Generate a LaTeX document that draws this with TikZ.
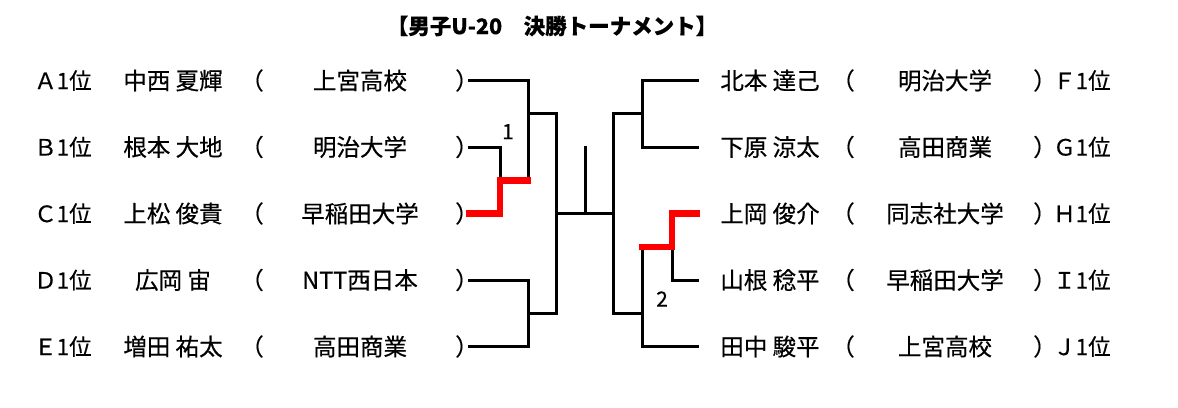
\documentclass[tikz,border=0pt]{standalone}
\usepackage{fontspec}
\newfontfamily\jp[FakeBold=0.4]{Noto Sans CJK JP}
\tikzset{
  txt/.style={inner sep=0pt, font=\jp\fontsize{23.5}{25}\selectfont},
  rank/.style={inner sep=0pt, font=\jp\fontsize{22.5}{25}\selectfont},
  ttl/.style={inner sep=0pt, font=\jp\bfseries\fontsize{21.5}{24}\selectfont},
  brk/.style={line width=3pt, black, line cap=rect},
  win/.style={line width=6.5pt, red, line cap=rect, line join=miter},
}
\begin{document}
\begin{tikzpicture}[x=1pt,y=-1pt]
\useasboundingbox (0,0) rectangle (1178,407);
\node[ttl] (title) at (552,26) {【男子U-20　決勝トーナメント】};
% rows
\def\ra{80.5}\def\rb{147}\def\rc{213.5}\def\rd{280}\def\re{346.5}
% left side
\foreach \r/\y/\n/\s [count=\i] in {Ａ/\ra/中西 夏輝/上宮高校, Ｂ/\rb/根本 大地/明治大学, Ｃ/\rc/上松 俊貴/早稲田大学, Ｄ/\rd/広岡 宙/NTT西日本, Ｅ/\re/増田 祐太/高田商業}{
  \node[rank,anchor=west] (lr\i) at (34,\y) {\r1位};
  \node[txt] (ln\i) at (173,\y) {\n};
  \node[txt] (lo\i) at (252,\y) {（};
  \node[txt] (ls\i) at (360,\y) {\s};
  \node[txt] (lc\i) at (467,\y) {）};
}
% right side
\foreach \r/\y/\n/\s [count=\i] in {Ｆ/\ra/北本 達己/明治大学, Ｇ/\rb/下原 涼太/高田商業, Ｈ/\rc/上岡 俊介/同志社大学, Ｉ/\rd/山根 稔平/早稲田大学, Ｊ/\re/田中 駿平/上宮高校}{
  \node[txt] (rn\i) at (770,\y) {\n};
  \node[txt] (ro\i) at (843,\y) {（};
  \node[txt] (rs\i) at (945,\y) {\s};
  \node[txt] (rc\i) at (1045,\y) {）};
  \node[rank,anchor=west] (rr\i) at (1053,\y) {\r1位};
}
% bracket coordinates
\coordinate (LA) at (469,\ra); \coordinate (LB) at (469,\rb); \coordinate (LC) at (469,\rc);
\coordinate (LD) at (469,\rd); \coordinate (LE) at (469,\re);
\coordinate (J1) at (528,113.3); \coordinate (J2) at (528,313.3);
\coordinate (SF) at (556,213.5);
\coordinate (RF) at (613.3,213.5);
\coordinate (K1) at (642,113.3); \coordinate (K2) at (642,313.3);
\coordinate (RA) at (697,\ra); \coordinate (RB) at (697,\rb); \coordinate (RC) at (697,\rc);
\coordinate (RD) at (697,\rd); \coordinate (RE) at (697,\re);
% left match lines
\draw[brk] (LA) -| (528,180.5);
\draw[brk] (LB) -| (500,180.5);
\draw[brk] (LD) -| (528,\re) -- (LE);
\draw[brk] (J1) -- (556,113.3) -- (556,313.3) -- (J2);
\draw[brk] (SF) -- (RF);
\draw[brk] (585,147) -- (585,213.5);
% right match lines
\draw[brk] (613.3,113.3) -- (613.3,313.3);
\draw[brk] (613.3,113.3) -- (K1);
\draw[brk] (613.3,313.3) -- (K2);
\draw[brk] (RA) -| (642,\rb) -- (RB);
\draw[brk] (RE) -| (642,247);
\draw[brk] (RD) -| (672,247);
% winners
\draw[win] (LC) -| (500,180.5) -- (528,180.5);
\draw[win] (642,247) -| (672,\rc) -- (RC);
% match numbers
\node[txt,font=\jp\fontsize{21}{22}\selectfont] (m1) at (508,131.7) {1};
\node[txt,font=\jp\fontsize{21}{22}\selectfont] (m2) at (662,299) {2};
\end{tikzpicture}
\end{document}
